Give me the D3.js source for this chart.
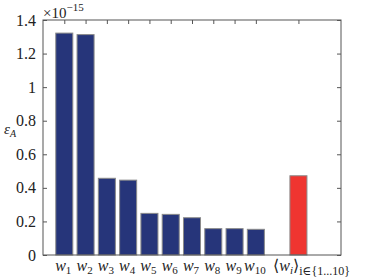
<!DOCTYPE html>
<html>
<head>
<meta charset="utf-8">
<script src="https://cdn.jsdelivr.net/npm/d3@7"></script>
<style>
  body { margin: 0; background: #fff; }
  svg text { font-family: "Liberation Serif", "DejaVu Serif", serif; fill: #222; }
</style>
</head>
<body>
<svg width="365" height="279"></svg>
<script>
// bar data (values in units of 1e-15)
const categories = ['w1','w2','w3','w4','w5','w6','w7','w8','w9','w10'];
const positions = [1,2,3,4,5,6,7,8,9,10];
const values = [1.322, 1.313, 0.457, 0.446, 0.248, 0.242, 0.222, 0.157, 0.157, 0.153];
const meanPosition = 12;
const meanValue = 0.472;
const yTicks = [0, 0.2, 0.4, 0.6, 0.8, 1, 1.2, 1.4];

const svg = d3.select('svg');
const plotLeft = 43, plotRight = 341, plotTop = 20, plotBottom = 255;

const x = d3.scaleLinear().domain([0, 14]).range([plotLeft, plotRight]);
const y = d3.scaleLinear().domain([0, 1.4]).range([plotBottom, plotTop]);
const barW = (x(1) - x(0)) * 0.8;

const bars = positions.map((p, i) => ({pos: p, v: values[i], c: '#26357a'}));
bars.push({pos: meanPosition, v: meanValue, c: '#ef3530'});

svg.selectAll('rect.bar')
  .data(bars)
  .enter()
  .append('rect')
  .attr('class', 'bar')
  .attr('x', d => x(d.pos) - barW / 2)
  .attr('y', d => y(d.v))
  .attr('width', barW)
  .attr('height', d => y(0) - y(d.v))
  .attr('fill', d => d.c)
  .attr('stroke', '#8a8a8a')
  .attr('stroke-width', 1);

// box
svg.append('rect')
  .attr('x', plotLeft).attr('y', plotTop)
  .attr('width', plotRight - plotLeft).attr('height', plotBottom - plotTop)
  .attr('fill', 'none').attr('stroke', '#555').attr('stroke-width', 1);

// y ticks (left + right, inward)
const yAxisL = d3.axisLeft(y).tickValues(yTicks).tickSize(-4).tickPadding(7)
  .tickFormat(d => d === 0 ? '0' : d3.format('')(d));
const gL = svg.append('g').attr('transform', `translate(${plotLeft},0)`).call(yAxisL);
gL.select('.domain').remove();
gL.selectAll('line').attr('stroke', '#555');
gL.selectAll('text').attr('font-size', 16).style('font-family', '"Liberation Serif", serif').style('fill', '#222');

const yAxisR = d3.axisRight(y).tickValues(yTicks).tickSize(-4).tickFormat('');
const gR = svg.append('g').attr('transform', `translate(${plotRight},0)`).call(yAxisR);
gR.select('.domain').remove();
gR.selectAll('line').attr('stroke', '#555');

// x ticks (top, inward)
const xPos = positions.concat([meanPosition]);
const xAxisT = d3.axisTop(x).tickValues(xPos).tickSize(-4).tickFormat('');
const gT = svg.append('g').attr('transform', `translate(0,${plotTop})`).call(xAxisT);
gT.select('.domain').remove();
gT.selectAll('line').attr('stroke', '#555');

// x labels: w with subscript
const lab = svg.append('g');
positions.forEach((p, i) => {
  const t = lab.append('text')
    .attr('x', x(p) - 1).attr('y', 271)
    .attr('text-anchor', 'middle')
    .attr('font-size', 16)
    .attr('font-style', 'italic');
  t.append('tspan').text('w');
  t.append('tspan').attr('font-size', 11).attr('font-style', 'normal').attr('dy', 3).text(categories[i].slice(1));
});
const mt = lab.append('text')
  .attr('x', 273).attr('y', 271)
  .attr('text-anchor', 'start')
  .attr('font-size', 16);
mt.append('tspan').text('\u27E8');
mt.append('tspan').attr('font-style', 'italic').text('w');
mt.append('tspan').attr('font-size', 11).attr('font-style', 'italic').attr('dy', 3).text('i');
mt.append('tspan').attr('dy', -3).text('\u27E9');
mt.append('tspan').attr('font-size', 12).attr('dy', 4)
  .text('i\u2208{1...10}');

// exponent
const ex = svg.append('text').attr('x', plotLeft).attr('y', 18).attr('font-size', 15);
ex.append('tspan').text('\u00D710');
ex.append('tspan').attr('font-size', 11).attr('dy', -7).text('\u221215');

// y label
const yl = svg.append('text').attr('x', 4).attr('y', 134).attr('font-size', 15).attr('font-style', 'italic');
yl.append('tspan').text('\u03B5');
yl.append('tspan').attr('font-size', 10).attr('dy', 3).text('A');
</script>
</body>
</html>
